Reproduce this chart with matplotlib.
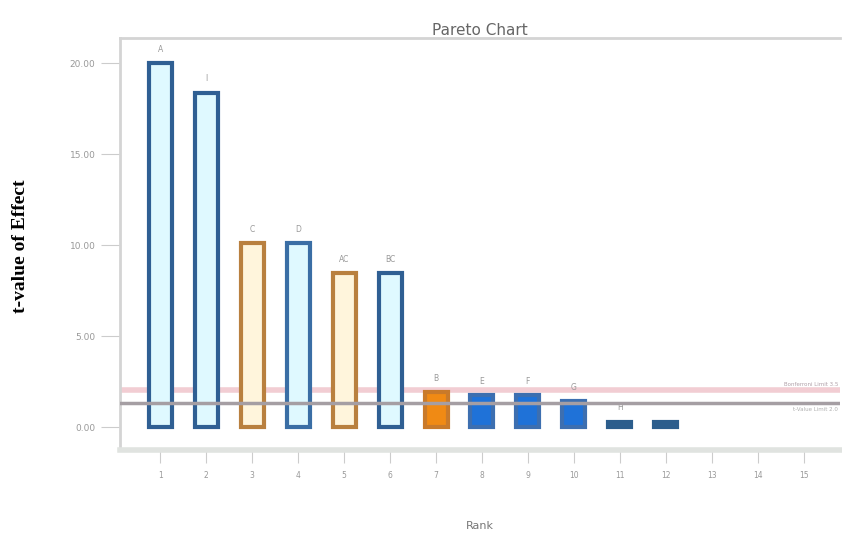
import matplotlib.pyplot as plt
import numpy as np

# ranks and t-values
rank = np.arange(1, 16)
tval = [20.0, 18.4, 10.1, 10.1, 8.45, 8.45, 1.92, 1.76, 1.76, 1.45, 0.3, 0.3, 0, 0, 0]
labels = ["A", "I", "C", "D", "AC", "BC", "B", "E", "F", "G", "H", "", "", "", ""]
yticks = [0, 5, 10, 15, 20]
ytick_labels = ["0.00", "5.00", "10.00", "15.00", "20.00"]
t_limit = 1.32
bonf_limit = 2.03

face = ["#dff9ff", "#dff9ff", "#fff5dc", "#dff9ff", "#fff5dc", "#dff9ff",
        "#f08a14", "#1f72d8", "#1f72d8", "#1f72d8", "#2c5d8c", "#2c5d8c",
        "#2c5d8c", "#2c5d8c", "#2c5d8c"]
edge = ["#2f5f93", "#2f5f93", "#b9803f", "#3a6ea5", "#b9803f", "#2f5f93",
        "#c97a2a", "#3d6fb0", "#3d6fb0", "#3d6fb0", "#2c5d8c", "#2c5d8c",
        "#2c5d8c", "#2c5d8c", "#2c5d8c"]
lw = [3 if v > 0 else 0 for v in tval]

fig = plt.figure(figsize=(8.42, 5.35), dpi=100)
ax = fig.add_axes([0.143, 0.159, 0.855, 0.77])

ax.bar(rank, tval, width=0.5, color=face, edgecolor=edge, linewidth=lw, zorder=3)
for x, y, s in zip(rank, tval, labels):
    if s:
        ax.text(x, y + 0.5, s, ha="center", va="bottom", fontsize=5.5, color="#999999")

ax.axhline(bonf_limit, color="#f2cdd3", linewidth=4, zorder=2)
ax.axhline(t_limit, color="#a59ea3", linewidth=2.5, zorder=4)
ax.text(15.75, bonf_limit + 0.15, "Bonferroni Limit 3.5", ha="right", va="bottom",
        fontsize=4, color="#b0a0a8")
ax.text(15.75, t_limit - 0.2, "t-Value Limit 2.0", ha="right", va="top",
        fontsize=4, color="#b0b0b0")

ax.set_xlim(0.13, 15.8)
ax.set_ylim(-1.26, 21.4)
ax.set_xticks(rank)
ax.set_xticklabels([str(r) for r in rank], fontsize=5.5, color="#999999")
ax.set_yticks(yticks)
ax.set_yticklabels(ytick_labels, fontsize=6.5, color="#999999")
ax.tick_params(axis="y", length=14, color="#cccccc", pad=4)
ax.tick_params(axis="x", length=9, color="#cccccc", pad=6)

for side in ["left", "top"]:
    ax.spines[side].set_color("#d4d4d4")
    ax.spines[side].set_linewidth(2)
ax.spines["right"].set_visible(False)
ax.spines["bottom"].set_color("#e0e3e0")
ax.spines["bottom"].set_linewidth(4)

ax.set_title("Pareto Chart", fontsize=11, color="#666666", pad=2)
ax.set_xlabel("Rank", fontsize=8, color="#777777", labelpad=30)
fig.text(0.024, 0.54, "t-value of Effect", rotation=90, ha="center", va="center",
         fontsize=14, fontweight="bold", family="Liberation Serif")

plt.savefig("out.png", dpi=100)
